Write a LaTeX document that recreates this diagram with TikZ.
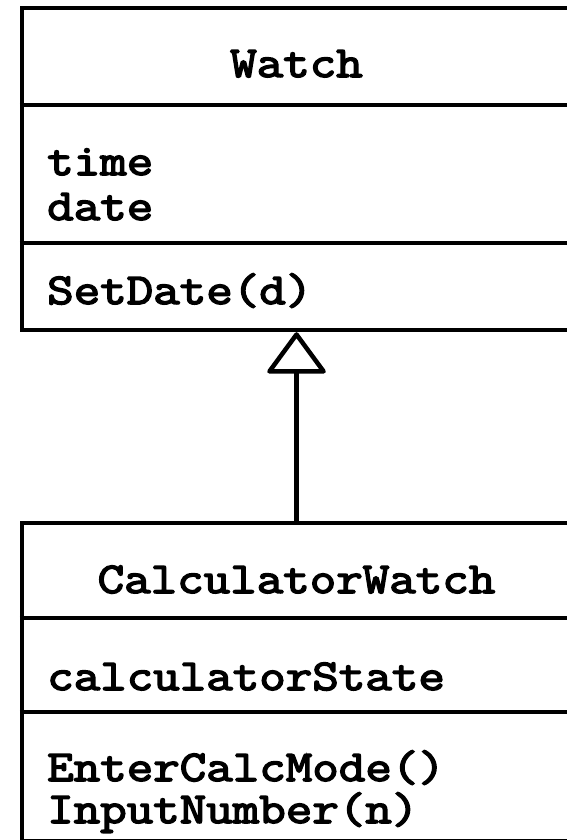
\documentclass[tikz,border=0pt]{standalone}
\usepackage{fontspec}
\usetikzlibrary{arrows.meta}
% heavy slab-serif typewriter lettering at a Courier-like pitch
\newfontfamily\classfont{Latin Modern Mono}[FakeBold=3.5, FakeStretch=1.17]
\tikzset{
  classbox/.style={draw, line width=4.5pt, inner sep=0pt, minimum width=549pt},
  divider/.style={line width=4.5pt},
  lbl/.style={inner sep=0pt, font=\fontsize{44}{45}\selectfont\classfont},
  inherit/.style={line width=4.5pt, -{Triangle[open, round, length=43pt, width=62pt]}}
}
\begin{document}
\begin{tikzpicture}[x=1pt, y=1pt]
  \useasboundingbox (0,0) rectangle (566,840);
  % class Watch
  \node[classbox, minimum height=322pt] (watch) at (296.5,671) {};
  \draw[divider] (watch.west |- 0,735) -- (watch.east |- 0,735);
  \draw[divider] (watch.west |- 0,597) -- (watch.east |- 0,597);
  \node[lbl, anchor=base] (wname) at (296.5,763) {Watch};
  \node[lbl, anchor=base west] (wattr1) at (47,665) {time};
  \node[lbl, anchor=base west] (wattr2) at (47,620) {date};
  \node[lbl, anchor=base west] (wop1) at (47,536) {SetDate(d)};
  % class CalculatorWatch
  \node[classbox, minimum height=318.5pt] (calc) at (296.5,157.75) {};
  \draw[divider] (calc.west |- 0,222) -- (calc.east |- 0,222);
  \draw[divider] (calc.west |- 0,128) -- (calc.east |- 0,128);
  \node[lbl, anchor=base] (cname) at (296.5,247) {CalculatorWatch};
  \node[lbl, anchor=base west] (cattr1) at (47,150) {calculatorState};
  \node[lbl, anchor=base west] (cop1) at (47,59) {EnterCalcMode()};
  \node[lbl, anchor=base west] (cop2) at (47,17) {InputNumber(n)};
  % generalization
  \draw[inherit] (calc.north) -- (watch.south);
\end{tikzpicture}
\end{document}
